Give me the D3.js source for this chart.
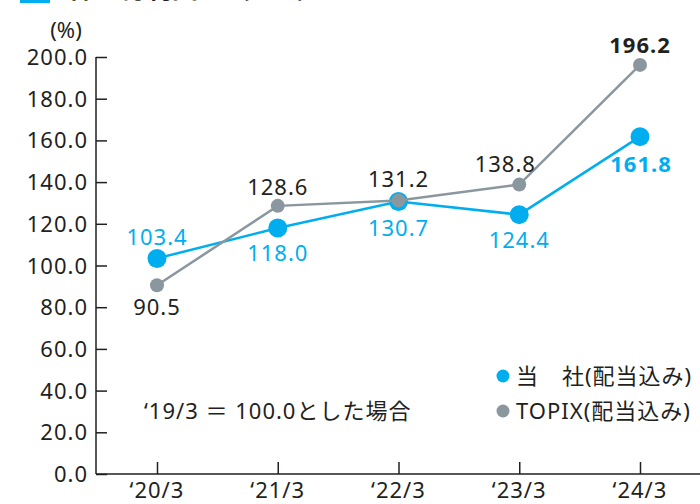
<!DOCTYPE html>
<html>
<head>
<meta charset="utf-8">
<script src="https://cdn.jsdelivr.net/npm/d3@7"></script>
<style>
body { margin: 0; background: #fff; }
text { font-family: "Noto Sans", "Noto Sans CJK JP", sans-serif; }
</style>
</head>
<body>
<div id="chart"></div>
<script>
// data
var periods = ["‘20/3", "‘21/3", "‘22/3", "‘23/3", "‘24/3"];
var company = [103.4, 118.0, 130.7, 124.4, 161.8];
var topix = [90.5, 128.6, 131.2, 138.8, 196.2];
var yTicks = [0, 20, 40, 60, 80, 100, 120, 140, 160, 180, 200];

var blue = "#00aeef", gray = "#8a979f", ink = "#231f20";

var svg = d3.select("#chart").append("svg").attr("width", 700).attr("height", 504);

// cut off title at the top
svg.append("rect").attr("x", 20).attr("y", 0).attr("width", 30).attr("height", 3).attr("fill", blue);
svg.append("text").attr("x", 68).attr("y", -2).text("株主総利回り（TSR）")
  .style("font-size", "26px").style("font-weight", "bold").attr("fill", ink);

var x = d3.scalePoint().domain(periods).range([157, 640]);
var y = d3.scaleLinear().domain([0, 200]).range([474, 57]);

// y axis
var yAxis = svg.append("g").attr("transform", "translate(96,0)")
  .call(d3.axisRight(y).tickValues(yTicks).tickSize(11).tickFormat(""));
yAxis.select(".domain").attr("d", "M0," + y(200) + "V" + y(0)).attr("stroke", ink).attr("stroke-width", 1.5);
yAxis.selectAll(".tick line").attr("stroke", ink).attr("stroke-width", 1.5);

svg.selectAll(".ylab").data(yTicks).enter().append("text")
  .attr("x", 88).attr("y", function(d) { return y(d) + 8; })
  .attr("text-anchor", "end").attr("fill", ink)
  .style("font-size", "22px").style("letter-spacing", "1px")
  .text(function(d) { return d.toFixed(1); });

svg.append("text").attr("x", 66).attr("y", 38).attr("text-anchor", "middle")
  .attr("fill", ink).style("font-size", "22px").text("(%)");

// x axis
var xAxis = svg.append("g").attr("transform", "translate(0,474)")
  .call(d3.axisTop(x).tickSize(12).tickFormat(""));
xAxis.select(".domain").attr("d", "M96,0H700").attr("stroke", ink).attr("stroke-width", 1.5);
xAxis.selectAll(".tick line").attr("stroke", ink).attr("stroke-width", 1.5);

svg.selectAll(".xlab").data(periods).enter().append("text")
  .attr("x", function(d) { return x(d); }).attr("y", 498)
  .attr("text-anchor", "middle").attr("fill", ink)
  .style("font-size", "22px").style("letter-spacing", "1px")
  .text(function(d) { return d; });

var line = d3.line().x(function(d, i) { return x(periods[i]); }).y(function(d) { return y(d); });

// company series
svg.append("path").datum(company).attr("d", line).attr("fill", "none")
  .attr("stroke", blue).attr("stroke-width", 2.5);
svg.selectAll(".cdot").data(company).enter().append("circle")
  .attr("cx", function(d, i) { return x(periods[i]); })
  .attr("cy", function(d) { return y(d); })
  .attr("r", 9.5).attr("fill", blue);

// topix series
svg.append("path").datum(topix).attr("d", line).attr("fill", "none")
  .attr("stroke", gray).attr("stroke-width", 2.5);
svg.selectAll(".tdot").data(topix).enter().append("circle")
  .attr("cx", function(d, i) { return x(periods[i]); })
  .attr("cy", function(d) { return y(d); })
  .attr("r", 7).attr("fill", gray);

// value labels: offsets relative to the point
var cOff = [-13, 33, 35, 33, 35];
var tOff = [30, -11, -13, -13, -12];
svg.selectAll(".clab").data(company).enter().append("text")
  .attr("x", function(d, i) { return x(periods[i]) + (i === 4 ? 1 : 0); })
  .attr("y", function(d, i) { return y(d) + cOff[i]; })
  .attr("text-anchor", "middle").attr("fill", blue)
  .style("font-size", "22px").style("letter-spacing", "1px")
  .style("font-weight", function(d, i) { return i === 4 ? "bold" : "normal"; })
  .text(function(d) { return d.toFixed(1); });
svg.selectAll(".tlab").data(topix).enter().append("text")
  .attr("x", function(d, i) { return x(periods[i]) - (i === 3 ? 14 : 0); })
  .attr("y", function(d, i) { return y(d) + tOff[i]; })
  .attr("text-anchor", "middle").attr("fill", ink)
  .style("font-size", "22px").style("letter-spacing", "1px")
  .style("font-weight", function(d, i) { return i === 4 ? "bold" : "normal"; })
  .text(function(d) { return d.toFixed(1); });

// legend
svg.append("circle").attr("cx", 503).attr("cy", 376).attr("r", 6.5).attr("fill", blue);
svg.append("text").attr("x", 516).attr("y", 384).attr("fill", ink)
  .style("font-size", "22px").style("letter-spacing", "1px")
  .text("当　社(配当込み)");
svg.append("circle").attr("cx", 503).attr("cy", 411).attr("r", 6.5).attr("fill", gray);
svg.append("text").attr("x", 516).attr("y", 419).attr("fill", ink)
  .style("font-size", "22px").style("letter-spacing", "1px")
  .text("TOPIX(配当込み)");

svg.append("text").attr("x", 144).attr("y", 419).attr("fill", ink)
  .style("font-size", "22px").style("letter-spacing", "1px")
  .text("‘19/3 ＝ 100.0とした場合");
</script>
</body>
</html>
